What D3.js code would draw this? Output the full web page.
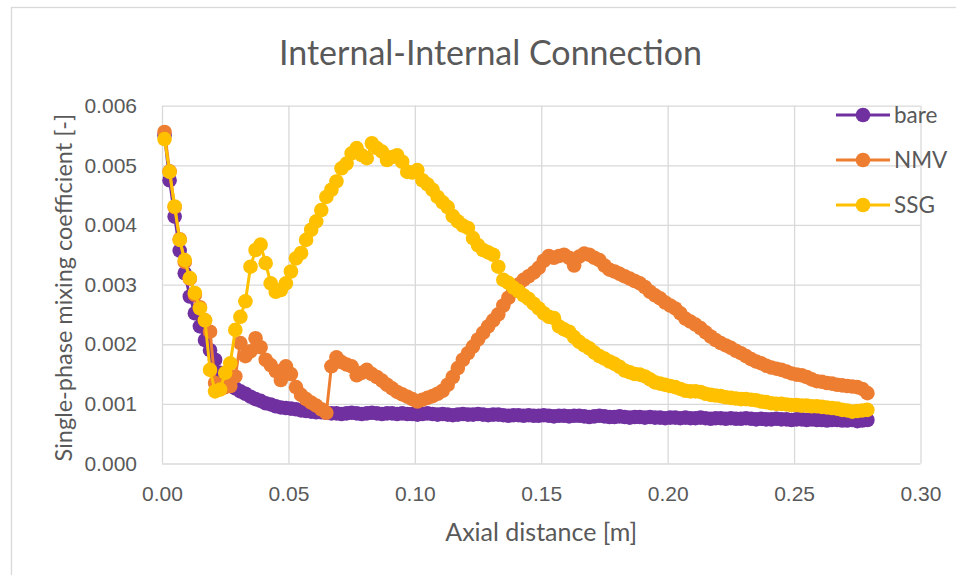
<!DOCTYPE html>
<html>
<head>
<meta charset="utf-8">
<script src="https://cdn.jsdelivr.net/npm/d3@7"></script>
<style>
  body { margin: 0; background: #fff; }
  svg { display: block; font-family: Lato, "Open Sans", sans-serif; }
  .grid line { stroke: #d9d9d9; stroke-width: 1.3; }
  .grid text { fill: #595959; font-size: 21px; }
</style>
</head>
<body>
<svg id="chart" width="956" height="575"></svg>
<script>
// axial position of each sample [m]
const axialX = [
  0.001, 0.003, 0.005, 0.007, 0.009, 0.011, 0.013, 0.015, 0.017, 0.019,
  0.021, 0.023, 0.025, 0.027, 0.029, 0.031, 0.033, 0.035, 0.037, 0.039,
  0.041, 0.043, 0.045, 0.047, 0.049, 0.051, 0.053, 0.055, 0.057, 0.059,
  0.061, 0.063, 0.065, 0.067, 0.069, 0.071, 0.073, 0.075, 0.077, 0.079,
  0.081, 0.083, 0.085, 0.087, 0.089, 0.091, 0.093, 0.095, 0.097, 0.099,
  0.101, 0.103, 0.105, 0.107, 0.109, 0.111, 0.113, 0.115, 0.117, 0.119,
  0.121, 0.123, 0.125, 0.127, 0.129, 0.131, 0.133, 0.135, 0.137, 0.139,
  0.141, 0.143, 0.145, 0.147, 0.149, 0.151, 0.153, 0.155, 0.157, 0.159,
  0.161, 0.163, 0.165, 0.167, 0.169, 0.171, 0.173, 0.175, 0.177, 0.179,
  0.181, 0.183, 0.185, 0.187, 0.189, 0.191, 0.193, 0.195, 0.197, 0.199,
  0.201, 0.203, 0.205, 0.207, 0.209, 0.211, 0.213, 0.215, 0.217, 0.219,
  0.221, 0.223, 0.225, 0.227, 0.229, 0.231, 0.233, 0.235, 0.237, 0.239,
  0.241, 0.243, 0.245, 0.247, 0.249, 0.251, 0.253, 0.255, 0.257, 0.259,
  0.261, 0.263, 0.265, 0.267, 0.269, 0.271, 0.273, 0.275, 0.277, 0.279
];

const bare = [
  0.00550, 0.00475, 0.00414, 0.00357, 0.00319, 0.00280, 0.00252, 0.00230, 0.00207, 0.00190,
  0.00174, 0.00152, 0.00140, 0.00132, 0.00126, 0.00121, 0.00117, 0.00112, 0.00108, 0.00105,
  0.00101, 0.00099, 0.00096, 0.00094, 0.00093, 0.00092, 0.00091, 0.00089, 0.00088, 0.00087,
  0.00086, 0.00086, 0.00085, 0.00084, 0.00084, 0.00083, 0.00084, 0.00085, 0.00084, 0.00083,
  0.00084, 0.00085, 0.00084, 0.00083, 0.00084, 0.00084, 0.00083, 0.00084, 0.00083, 0.00083,
  0.00082, 0.00083, 0.00084, 0.00083, 0.00082, 0.00083, 0.00082, 0.00081, 0.00082, 0.00083,
  0.00082, 0.00082, 0.00083, 0.00082, 0.00081, 0.00082, 0.00082, 0.00081, 0.00080, 0.00081,
  0.00081, 0.00080, 0.00081, 0.00080, 0.00080, 0.00081, 0.00080, 0.00079, 0.00080, 0.00080,
  0.00079, 0.00080, 0.00080, 0.00079, 0.00078, 0.00079, 0.00080, 0.00079, 0.00078, 0.00078,
  0.00079, 0.00078, 0.00077, 0.00078, 0.00078, 0.00077, 0.00078, 0.00077, 0.00077, 0.00076,
  0.00077, 0.00077, 0.00076, 0.00077, 0.00076, 0.00076, 0.00077, 0.00076, 0.00075, 0.00076,
  0.00076, 0.00075, 0.00076, 0.00075, 0.00075, 0.00076, 0.00075, 0.00074, 0.00075, 0.00074,
  0.00074, 0.00075, 0.00074, 0.00074, 0.00073, 0.00074, 0.00074, 0.00073, 0.00074, 0.00073,
  0.00073, 0.00072, 0.00073, 0.00073, 0.00072, 0.00072, 0.00073, 0.00071, 0.00072, 0.00073
];

const nmv = [
  0.00556, 0.00490, 0.00430, 0.00376, 0.00338, 0.00310, 0.00283, 0.00262, 0.00240, 0.00221,
  0.00135, 0.00130, 0.00128, 0.00130, 0.00146, 0.00202, 0.00180, 0.00188, 0.00210, 0.00195,
  0.00174, 0.00165, 0.00155, 0.00140, 0.00163, 0.00150, 0.00128, 0.00115, 0.00108, 0.00102,
  0.00097, 0.00091, 0.00085, 0.00163, 0.00178, 0.00170, 0.00166, 0.00163, 0.00148, 0.00152,
  0.00157, 0.00150, 0.00145, 0.00139, 0.00132, 0.00126, 0.00120, 0.00116, 0.00112, 0.00108,
  0.00104, 0.00107, 0.00110, 0.00113, 0.00117, 0.00122, 0.00132, 0.00145, 0.00160, 0.00174,
  0.00185, 0.00196, 0.00208, 0.00219, 0.00230, 0.00240, 0.00250, 0.00265, 0.00278, 0.00290,
  0.00300, 0.00308, 0.00314, 0.00320, 0.00328, 0.00340, 0.00348, 0.00345, 0.00348, 0.00350,
  0.00345, 0.00332, 0.00347, 0.00352, 0.00350, 0.00345, 0.00341, 0.00332, 0.00325, 0.00322,
  0.00318, 0.00314, 0.00310, 0.00306, 0.00302, 0.00296, 0.00288, 0.00282, 0.00277, 0.00270,
  0.00265, 0.00260, 0.00252, 0.00243, 0.00238, 0.00233, 0.00227, 0.00220, 0.00213, 0.00207,
  0.00202, 0.00198, 0.00194, 0.00189, 0.00185, 0.00180, 0.00175, 0.00171, 0.00168, 0.00164,
  0.00161, 0.00159, 0.00157, 0.00154, 0.00151, 0.00149, 0.00148, 0.00145, 0.00141, 0.00138,
  0.00137, 0.00135, 0.00134, 0.00132, 0.00131, 0.00130, 0.00129, 0.00128, 0.00125, 0.00118
];

const ssg = [
  0.00544, 0.00489, 0.00431, 0.00375, 0.00341, 0.00311, 0.00286, 0.00260, 0.00240, 0.00157,
  0.00121, 0.00124, 0.00152, 0.00168, 0.00224, 0.00246, 0.00272, 0.00330, 0.00358, 0.00367,
  0.00336, 0.00302, 0.00288, 0.00291, 0.00302, 0.00322, 0.00344, 0.00353, 0.00375, 0.00392,
  0.00406, 0.00425, 0.00447, 0.00459, 0.00473, 0.00495, 0.00503, 0.00520, 0.00529, 0.00517,
  0.00512, 0.00537, 0.00529, 0.00523, 0.00509, 0.00514, 0.00517, 0.00506, 0.00489, 0.00488,
  0.00492, 0.00475, 0.00468, 0.00459, 0.00447, 0.00438, 0.00430, 0.00415, 0.00406, 0.00399,
  0.00395, 0.00378, 0.00366, 0.00358, 0.00354, 0.00350, 0.00330, 0.00308, 0.00303, 0.00295,
  0.00289, 0.00282, 0.00276, 0.00268, 0.00260, 0.00252, 0.00246, 0.00244, 0.00230, 0.00225,
  0.00221, 0.00212, 0.00204, 0.00198, 0.00193, 0.00186, 0.00180, 0.00176, 0.00171, 0.00167,
  0.00162, 0.00156, 0.00153, 0.00150, 0.00149, 0.00146, 0.00141, 0.00136, 0.00134, 0.00132,
  0.00130, 0.00128, 0.00125, 0.00122, 0.00121, 0.00121, 0.00120, 0.00117, 0.00115, 0.00114,
  0.00113, 0.00111, 0.00110, 0.00109, 0.00108, 0.00108, 0.00107, 0.00106, 0.00104, 0.00103,
  0.00101, 0.00100, 0.00100, 0.00099, 0.00098, 0.00098, 0.00097, 0.00097, 0.00096, 0.00096,
  0.00095, 0.00094, 0.00093, 0.00092, 0.00090, 0.00089, 0.00087, 0.00088, 0.00089, 0.00090
];

const seriesNames = ["bare", "NMV", "SSG"];
const seriesColors = ["#7030a0", "#ed7d31", "#ffc000"];
const xTicks = [0, 0.05, 0.10, 0.15, 0.20, 0.25, 0.30];
const yTicks = [0, 0.001, 0.002, 0.003, 0.004, 0.005, 0.006];

const chartTitle = "Internal-Internal Connection";
const xTitle = "Axial distance [m]";
const yTitle = "Single-phase mixing coefficient [-]";

const svg = d3.select("#chart");
const W = 956, H = 575;
const plot = { left: 162, right: 920.5, top: 105.7, bottom: 463.5 };
const textColor = "#595959";
const markerR = 7.3;

// chart area border (runs past the right and bottom edges of the picture)
svg.append("rect")
  .attr("x", 11.5).attr("y", 7.5)
  .attr("width", W + 20).attr("height", H + 20)
  .attr("fill", "#fff").attr("stroke", "#d9d9d9").attr("stroke-width", 1.3);

const x = d3.scaleLinear().domain([0, 0.3]).range([plot.left, plot.right]);
const y = d3.scaleLinear().domain([0, 0.006]).range([plot.bottom, plot.top]);

// gridlines + tick labels
svg.append("g")
  .attr("class", "grid")
  .attr("transform", `translate(${plot.left},0)`)
  .call(d3.axisLeft(y).tickValues(yTicks).tickFormat(d3.format(".3f"))
    .tickSize(-(plot.right - plot.left)).tickPadding(25))
  .call(g => g.select(".domain").remove())
  .call(g => g.selectAll("text").attr("font-family", null).attr("font-size", null));

svg.append("g")
  .attr("class", "grid")
  .attr("transform", `translate(0,${plot.bottom})`)
  .call(d3.axisBottom(x).tickValues(xTicks).tickFormat(d3.format(".2f"))
    .tickSize(-(plot.bottom - plot.top)).tickPadding(23))
  .call(g => g.select(".domain").remove())
  .call(g => g.selectAll("text").attr("font-family", null).attr("font-size", null));

// series
const allSeries = [bare, nmv, ssg].map((vals, i) => ({
  name: seriesNames[i],
  color: seriesColors[i],
  points: d3.zip(axialX, vals)
}));

const line = d3.line().x(d => x(d[0])).y(d => y(d[1]));

allSeries.forEach(s => {
  const g = svg.append("g");
  g.append("path")
    .datum(s.points)
    .attr("fill", "none")
    .attr("stroke", s.color)
    .attr("stroke-width", 3)
    .attr("stroke-linejoin", "round")
    .attr("d", line);
  g.selectAll("circle")
    .data(s.points)
    .join("circle")
    .attr("cx", d => x(d[0]))
    .attr("cy", d => y(d[1]))
    .attr("r", markerR)
    .attr("fill", s.color);
});

// legend
const legend = svg.append("g").attr("transform", "translate(836,115)");
allSeries.forEach((s, i) => {
  const row = legend.append("g").attr("transform", `translate(0,${i * 45})`);
  row.append("line").attr("x1", 0).attr("x2", 54)
    .attr("stroke", s.color).attr("stroke-width", 3);
  row.append("circle").attr("cx", 27).attr("r", markerR).attr("fill", s.color);
  row.append("text").attr("x", 58).attr("dy", "0.36em")
    .attr("fill", textColor).attr("font-size", 22.5).text(s.name);
});

// titles
svg.append("text")
  .attr("x", 490.5).attr("y", 65)
  .attr("text-anchor", "middle")
  .attr("fill", textColor).attr("font-size", 34)
  .text(chartTitle);

svg.append("text")
  .attr("x", (plot.left + plot.right) / 2).attr("y", 541)
  .attr("text-anchor", "middle")
  .attr("fill", textColor).attr("font-size", 25)
  .text(xTitle);

svg.append("text")
  .attr("transform", `translate(72,${(plot.top + plot.bottom) / 2 + 3}) rotate(-90)`)
  .attr("text-anchor", "middle")
  .attr("fill", textColor).attr("font-size", 23.5)
  .text(yTitle);
</script>
</body>
</html>
